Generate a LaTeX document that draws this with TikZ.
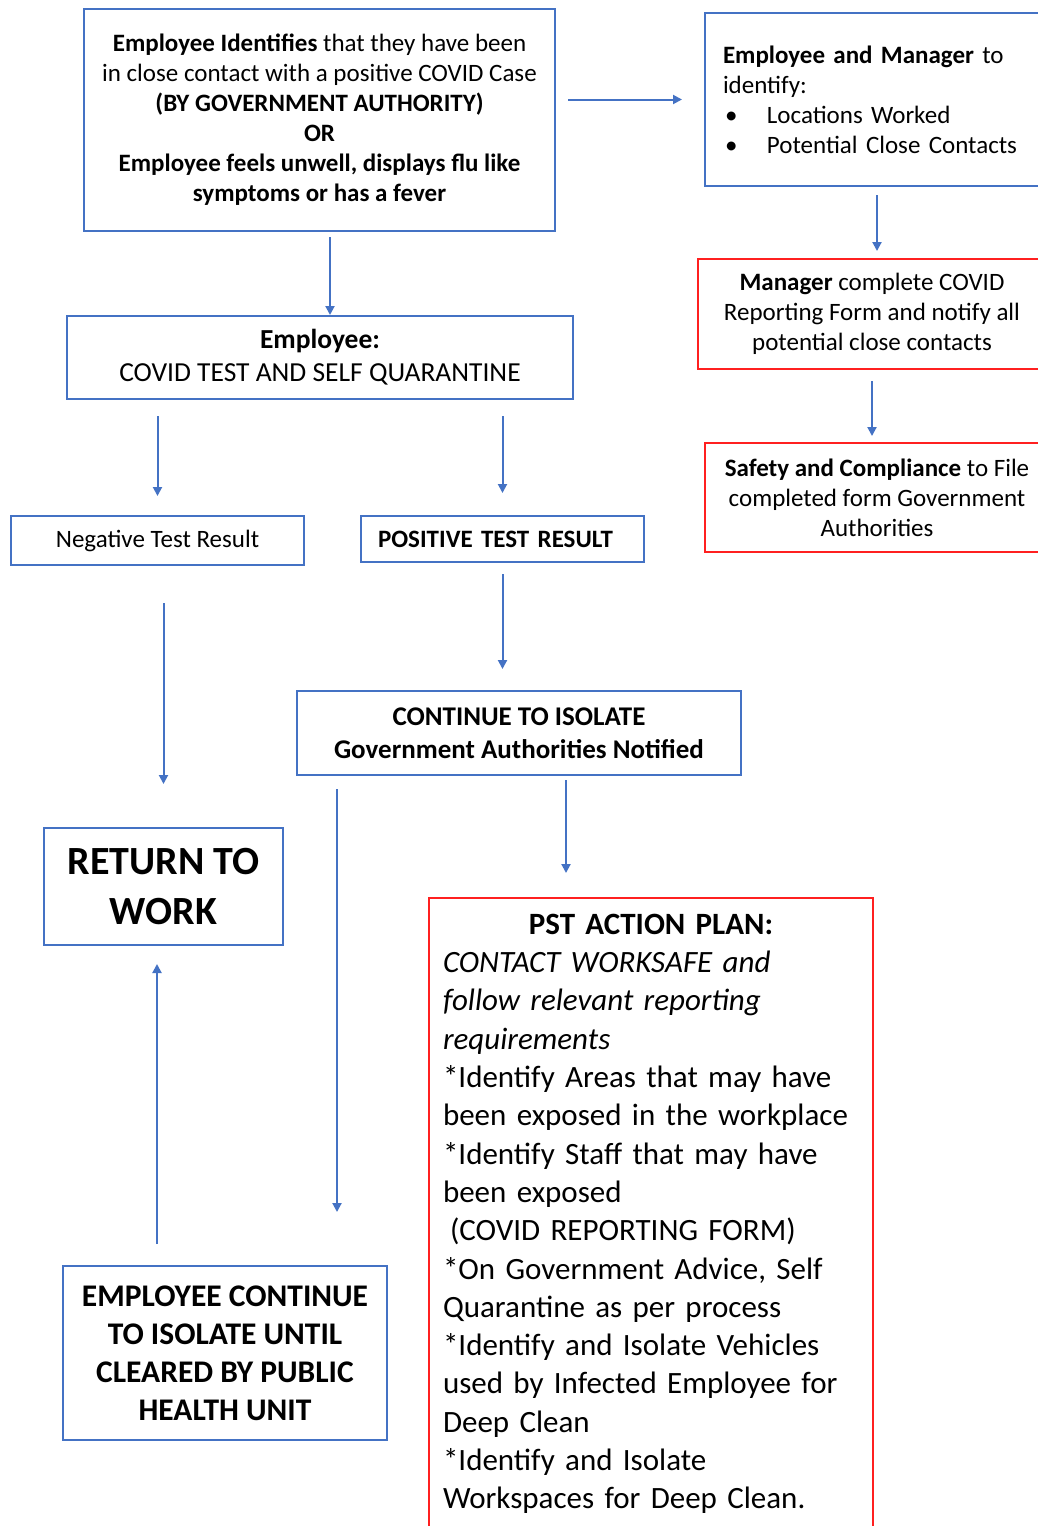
\documentclass[tikz,border=0pt]{standalone}
\usepackage{fontspec}
\setmainfont{Carlito}
\usetikzlibrary{arrows.meta,positioning}
\definecolor{boxblue}{HTML}{4472C4}
\definecolor{boxred}{HTML}{FF2020}
\newcommand{\fs}[2]{\fontsize{#1}{#2}\selectfont}
\tikzset{
	%Define standard arrow tip
	>={Triangle[length=9pt,width=9pt]},
	%Define style for boxes
	bluebox/.style={
		rectangle,
		draw=boxblue, line width=2pt,
		inner sep=0pt,
		align=center,
		font={\fs{25}{30}}},
	redbox/.style={
		bluebox,
		draw=boxred},
	% Define arrow style
	pil/.style={
		->,
		draw=boxblue,
		line width=2pt}
}

\begin{document}
\begin{tikzpicture}[x=1pt,y=-1pt]
	\fill[white] (0,0) rectangle (1038,1526);
	\useasboundingbox (0,0) rectangle (1038,1526);
	\clip (0,0) rectangle (1038,1526);
	% node first report
	\node[bluebox, minimum width=471, minimum height=222] (ident) at (319.5,120)
		{\textbf{Employee Identifies} that they have been\\ in close contact with a positive COVID Case\\ \textbf{(BY GOVERNMENT AUTHORITY)}\\ \textbf{OR}\\ \textbf{Employee feels unwell, displays flu like}\\ \textbf{symptoms or has a fever}};
	% right column
	\node[bluebox, minimum width=344, minimum height=173, text width=308, align=left] (mgrid) at (877,99.5)
		{\textbf{Employee and Manager} to\\ identify:\\ \hspace*{2pt}\makebox[42pt][l]{\textbullet}Locations Worked\\ \hspace*{2pt}\makebox[42pt][l]{\textbullet}Potential Close Contacts};
	\node[redbox, minimum width=348, minimum height=110] (manager) at (872,314)
		{\textbf{Manager} complete COVID\\ Reporting Form and notify all\\ potential close contacts};
	\node[redbox, minimum width=344, minimum height=109] (safety) at (877,497.5)
		{\textbf{Safety and Compliance} to File\\ completed form Government\\ Authorities};
	% node test and quarantine
	\node[bluebox, minimum width=506, minimum height=83, font={\fs{27.5}{33}}] (emp) at (320,357.5)
		{\textbf{Employee:}\\ COVID TEST AND SELF QUARANTINE};
	% results
	\node[bluebox, minimum width=293, minimum height=49] (neg) at (157.5,540.5) {Negative Test Result};
	\node[bluebox, minimum width=283, minimum height=46, text width=249, align=left, font={\fs{25}{30}\bfseries}] (pos) at (502.5,539)
		{POSITIVE TEST RESULT};
	\node[bluebox, minimum width=444, minimum height=84, font={\fs{27}{33}\bfseries}] (cont) at (519,733)
		{CONTINUE TO ISOLATE\\ Government Authorities Notified};
	\node[bluebox, minimum width=239, minimum height=117, font={\fs{40}{50}\bfseries}] (ret) at (163.5,886.5)
		{RETURN TO\\ WORK};
	\node[bluebox, minimum width=324, minimum height=174, font={\fs{31.5}{38}\bfseries}] (empcont) at (225,1353)
		{EMPLOYEE CONTINUE\\ TO ISOLATE UNTIL\\ CLEARED BY PUBLIC\\ HEALTH UNIT};
	% node action plan
	\node[redbox, anchor=north, minimum width=444, text width=416, align=left, inner xsep=14, inner ysep=16, font={\fs{31}{38.3}}] (pst) at (651,897)
		{\makebox[416pt]{\textbf{PST ACTION PLAN:}}\\
		\textit{CONTACT WORKSAFE and}\\
		\textit{follow relevant reporting}\\
		\textit{requirements}\\
		{*}Identify Areas that may have\\
		been exposed in the workplace\\
		{*}Identify Staff that may have\\
		been exposed\\
		\hspace*{7pt}(COVID REPORTING FORM)\\
		{*}On Government Advice, Self\\
		Quarantine as per process\\
		{*}Identify and Isolate Vehicles\\
		used by Infected Employee for\\
		Deep Clean\\
		{*}Identify and Isolate\\
		Workspaces for Deep Clean.\rule[-40pt]{0pt}{40pt}};
	% arrows
	\draw[pil, shorten <=5] ([xshift=10.5]ident.south) -- ([xshift=10]emp.north);
	\draw[pil, shorten <=12, shorten >=22] (ident.east |- mgrid.west) -- (mgrid.west);
	\draw[pil, shorten <=8, shorten >=7] (mgrid.south) -- (manager.north -| mgrid.south);
	\draw[pil, shorten <=11, shorten >=6] (manager.south) -- (safety.north -| manager.south);
	\draw[pil, shorten <=16, shorten >=19] (emp.south -| neg.north) -- (neg.north);
	\draw[pil, shorten <=16, shorten >=22] (emp.south -| pos.north) -- (pos.north);
	\draw[pil, shorten <=11, shorten >=21] (pos.south) -- (cont.north -| pos.south);
	\draw[pil, shorten <=37, shorten >=43] (neg.south -| ret.north) -- (ret.north);
	\draw[pil, shorten <=4, shorten >=24] ([xshift=47]cont.south) -- ([xshift=47]cont.south |- pst.north);
	\draw[pil, shorten <=13, shorten >=53] ([xshift=-182]cont.south) -- ([xshift=-182]cont.south |- empcont.north);
	\draw[pil, shorten <=21, shorten >=18] ([xshift=-68]empcont.north) -- ([xshift=-68]empcont.north |- ret.south);
\end{tikzpicture}
\end{document}
